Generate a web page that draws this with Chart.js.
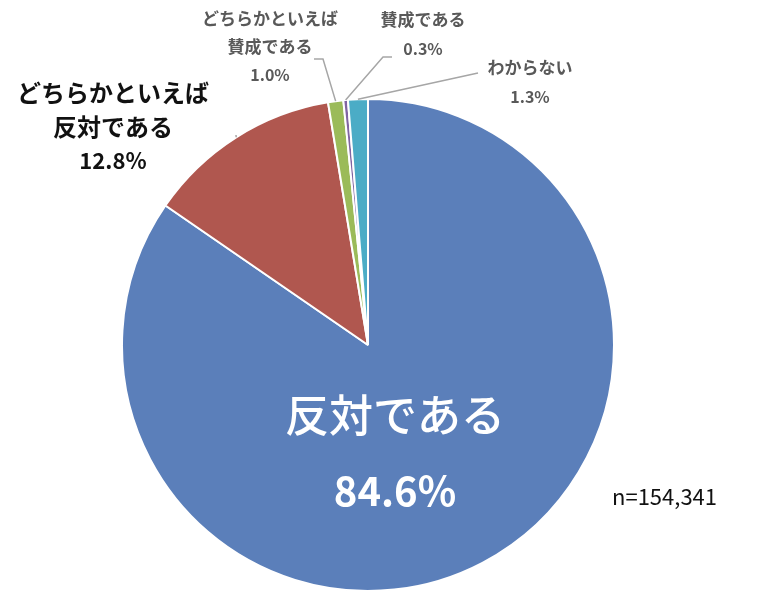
<!DOCTYPE html>
<html><head><meta charset="utf-8">
<script src="https://cdn.jsdelivr.net/npm/chart.js@4"></script>
<style>body{margin:0;background:#fff}#wrap{width:768px;height:594px}</style>
</head><body><div id="wrap"><canvas id="c"></canvas></div>
<script>
const categories = ["反対である", "どちらかといえば反対である", "どちらかといえば賛成である", "賛成である", "わからない"];
const values = [84.6, 12.8, 1.0, 0.3, 1.3];
const colors = ["#5B7FBA", "#B0574F", "#9BBB59", "#8064A2", "#4BACC6"];

const F = '"Noto Sans CJK JP", sans-serif';
// label text layout per slice: lines, centre x, first-line y, line step, font, colour, leader points
const labels = [
  { lines: ["反対である", values[0].toFixed(1) + "%"], x: 395, y: 415, step: 76, font: ["500 44px", "bold 40px"], color: "#fff" },
  { lines: ["どちらかといえば", "反対である", values[1].toFixed(1) + "%"], x: 113, y: 93, step: 34, font: ["bold 24px", "bold 24px", "bold 22px"], color: "#111", leader: [[236, 135]] },
  { lines: ["どちらかといえば", "賛成である", values[2].toFixed(1) + "%"], x: 270, y: 19, step: 28, font: ["bold 17px", "bold 17px", "bold 16px"], color: "#595959", leader: [[314, 59], [323, 59]] },
  { lines: ["賛成である", values[3].toFixed(1) + "%"], x: 423, y: 20, step: 29, font: ["bold 17px", "bold 16px"], color: "#595959", leader: [[392, 57], [383, 57]] },
  { lines: ["わからない", values[4].toFixed(1) + "%"], x: 530, y: 68, step: 29, font: ["bold 17px", "bold 16px"], color: "#595959", leader: [[478, 73]] }
];

const labelPlugin = {
  id: "labels",
  afterDatasetsDraw(chart) {
    const ctx = chart.ctx;
    const arcs = chart.getDatasetMeta(0).data;
    ctx.save();
    arcs.forEach((arc, i) => {
      const L = labels[i];
      const p = arc.getProps(["x", "y", "startAngle", "endAngle", "outerRadius"], true);
      if (L.leader) {
        const a = (p.startAngle + p.endAngle) / 2;
        const ex = p.x + Math.cos(a) * p.outerRadius, ey = p.y + Math.sin(a) * p.outerRadius;
        ctx.strokeStyle = "#a6a6a6"; ctx.lineWidth = 1.5;
        ctx.beginPath();
        ctx.moveTo(L.leader[0][0], L.leader[0][1]);
        L.leader.slice(1).forEach(q => ctx.lineTo(q[0], q[1]));
        ctx.lineTo(ex, ey);
        ctx.stroke();
      }
      ctx.fillStyle = L.color; ctx.textAlign = "center"; ctx.textBaseline = "middle";
      L.lines.forEach((t, j) => {
        ctx.font = L.font[j] + " " + F;
        ctx.fillText(t, L.x, L.y + j * L.step);
      });
    });
    ctx.font = "22px " + F; ctx.fillStyle = "#111"; ctx.textAlign = "left";
    ctx.fillText("n=154,341", 612, 497);
    ctx.restore();
  }
};

new Chart(document.getElementById("c"), {
  type: "pie",
  data: { labels: categories, datasets: [{ data: values, backgroundColor: colors, borderColor: "#fff", borderWidth: 2 }] },
  options: {
    responsive: true, maintainAspectRatio: false, animation: false,
    layout: { padding: { left: 121, top: 98, right: 153, bottom: 2 } },
    plugins: { legend: { display: false }, tooltip: { enabled: false } }
  },
  plugins: [labelPlugin]
});
</script></body></html>
